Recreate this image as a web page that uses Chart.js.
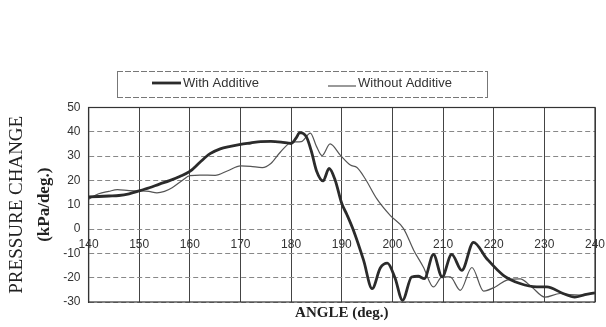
<!DOCTYPE html>
<html>
<head>
<meta charset="utf-8">
<script src="https://cdn.jsdelivr.net/npm/chart.js@4.4.1/dist/chart.umd.min.js"></script>
<style>
  html, body { margin: 0; padding: 0; background: #fff; }
  #wrap { width: 606px; height: 327px; }
</style>
</head>
<body>
<div id="wrap"><canvas id="chart" width="606" height="327"></canvas></div>
<script>
// Angle (deg.) / pressure change (kPa/deg.)
var withAngle = [140, 142, 144, 146, 148, 150, 152, 154, 156, 158, 160, 162, 164, 166, 168, 170,
    172, 174, 176, 178, 180, 181, 181.7, 183, 184, 185, 186.3, 187.5, 188.7, 190, 191, 192.3,
    194.3, 196, 197.6, 199, 200.5, 202, 203.8, 205.1, 206.3, 208.1, 209.8, 211.7, 213.7, 216,
    218.6, 221.9, 225.2, 228.5, 230.5, 233.7, 236, 238, 240];
var withValue = [13.2, 13.4, 13.6, 13.8, 14.5, 15.7, 17, 18.5, 19.9, 21.6, 23.7, 27.5, 31, 33, 34, 34.8,
    35.4, 36, 36.1, 35.8, 35.2, 37.5, 39.7, 38, 32, 24, 19.8, 24.9, 20.1, 10.5, 6, -0.5,
    -12.8, -24.5, -16, -14, -20, -29.3, -19.7, -19.4, -20.4, -10.4, -19.7, -10.4, -17, -5.5,
    -12.1, -19, -22.4, -23.8, -23.8, -26.5, -28, -27, -26.2];

var withoutAngle = [140, 142, 144, 145.7, 148, 150, 151.9, 153.5, 155, 156.5, 158.5, 160, 162, 165,
    167.5, 170, 172, 174.3, 176, 177.9, 180.2, 182, 183.8, 185, 186.1, 187.7, 189.7, 191.7, 193,
    194.6, 196.9, 199.6, 202.2, 204.2, 206.1, 208.1, 209.8, 211.4, 213.4, 215.7, 218, 220.3,
    222.6, 225.2, 227.5, 230.1, 233.1, 235, 237, 240];
var withoutValue = [12.3, 14.5, 15.5, 16.2, 15.8, 15.7, 15.5, 14.9, 15.5, 17, 20, 22, 22.2, 22.1,
    24, 26, 25.8, 25.3, 27, 31.7, 35.8, 36, 39.5, 34, 30.2, 35, 30.4, 26.3, 25.3,
    20.8, 12.5, 5.5, 0.2, -8.7, -15.6, -23.8, -19.7, -19.7, -25.2, -15.8, -25.5, -23.8,
    -21, -20.5, -23.8, -28, -26.5, -27, -27.2, -26.3];

var seriesNames = ["With Additive", "Without Additive"];
var xTitle = "ANGLE (deg.)";
var yTitle = ["PRESSURE CHANGE", "(kPa/deg.)"];
var xRange = [140, 240];
var yRange = [-30, 50];

function points(xs, ys) {
    return xs.map(function (x, i) { return { x: x, y: ys[i] }; });
}

// frame round the plot + the boxed legend above it
var framePlugin = {
    id: "frame",
    afterDraw: function (chart) {
        var ctx = chart.ctx, a = chart.chartArea;
        ctx.save();
        ctx.strokeStyle = "#333";
        ctx.lineWidth = 1.2;
        ctx.strokeRect(a.left, a.top, a.right - a.left, a.bottom - a.top);

        // legend box
        ctx.strokeStyle = "#777";
        ctx.lineWidth = 1;
        ctx.setLineDash([6, 2]);
        ctx.beginPath();
        ctx.moveTo(117, 71.5); ctx.lineTo(488, 71.5);
        ctx.moveTo(117, 97.5); ctx.lineTo(488, 97.5);
        ctx.stroke();
        ctx.setLineDash([]);
        ctx.beginPath();
        ctx.moveTo(117.5, 71); ctx.lineTo(117.5, 98);
        ctx.moveTo(487.5, 71); ctx.lineTo(487.5, 98);
        ctx.stroke();

        var items = [
            { x0: 152, x1: 181, y: 83, tx: 183 },
            { x0: 328, x1: 356, y: 86, tx: 358 }
        ];
        ctx.font = "13px 'Liberation Sans', Arial, sans-serif";
        ctx.textBaseline = "middle";
        ctx.fillStyle = "#333";
        chart.data.datasets.forEach(function (ds, i) {
            var it = items[i];
            ctx.strokeStyle = ds.borderColor;
            ctx.lineWidth = ds.borderWidth;
            ctx.beginPath();
            ctx.moveTo(it.x0, it.y);
            ctx.lineTo(it.x1, it.y);
            ctx.stroke();
            ctx.fillText(ds.label, it.tx, 83);
        });
        ctx.restore();
    }
};

var tickFont = { family: "'Liberation Sans', Arial, sans-serif", size: 12 };
var serif = "'Liberation Serif', 'Times New Roman', serif";

new Chart(document.getElementById("chart"), {
    type: "line",
    data: {
        datasets: [
            {
                label: seriesNames[0],
                data: points(withAngle, withValue),
                borderColor: "#2b2b2b",
                borderWidth: 2.8,
                pointRadius: 0,
                cubicInterpolationMode: "monotone",
                xAxisID: "x",
                yAxisID: "y"
            },
            {
                label: seriesNames[1],
                data: points(withoutAngle, withoutValue),
                borderColor: "#555",
                borderWidth: 1.2,
                pointRadius: 0,
                cubicInterpolationMode: "monotone",
                xAxisID: "x",
                yAxisID: "y"
            }
        ]
    },
    options: {
        responsive: false,
        animation: false,
        layout: { padding: { top: 107.5, right: 11, bottom: 5, left: 6 } },
        plugins: {
            legend: { display: false },
            tooltip: { enabled: false }
        },
        scales: {
            x: {
                type: "linear",
                position: { y: 0 },
                min: xRange[0],
                max: xRange[1],
                ticks: { stepSize: 10, padding: 8, color: "#333", font: tickFont, maxRotation: 0 },
                grid: { color: "#444", lineWidth: 1, drawTicks: false },
                border: { display: false },
                // labels at 140 / 240 may hang past the plot edges
                afterFit: function (s) { s.paddingLeft = 0; s.paddingRight = 0; }
            },
            x2: {
                type: "linear",
                position: "bottom",
                min: xRange[0],
                max: xRange[1],
                ticks: { display: false },
                grid: { display: false, drawTicks: false },
                border: { display: false },
                title: {
                    display: true,
                    text: xTitle,
                    color: "#222",
                    font: { family: serif, size: 15, weight: "bold" },
                    padding: { top: 2, bottom: 0 }
                }
            },
            y: {
                type: "linear",
                position: "left",
                min: yRange[0],
                max: yRange[1],
                ticks: { stepSize: 10, padding: 8, color: "#333", font: tickFont },
                grid: { color: "#888", lineWidth: 1, drawTicks: false },
                border: { display: true, color: "#333", width: 1.2, dash: [5, 3] },
                title: {
                    display: true,
                    text: yTitle[1],
                    color: "#222",
                    font: { family: serif, size: 17, weight: "bold" },
                    padding: { top: 0, bottom: 0 }
                }
            },
            y2: {
                type: "linear",
                position: "left",
                weight: 1,
                min: yRange[0],
                max: yRange[1],
                ticks: { display: false },
                grid: { display: false, drawTicks: false },
                border: { display: false },
                title: {
                    display: true,
                    text: yTitle[0],
                    color: "#222",
                    font: { family: serif, size: 19 },
                    padding: { top: 0, bottom: 6 }
                }
            }
        }
    },
    plugins: [framePlugin]
});
</script>
</body>
</html>
